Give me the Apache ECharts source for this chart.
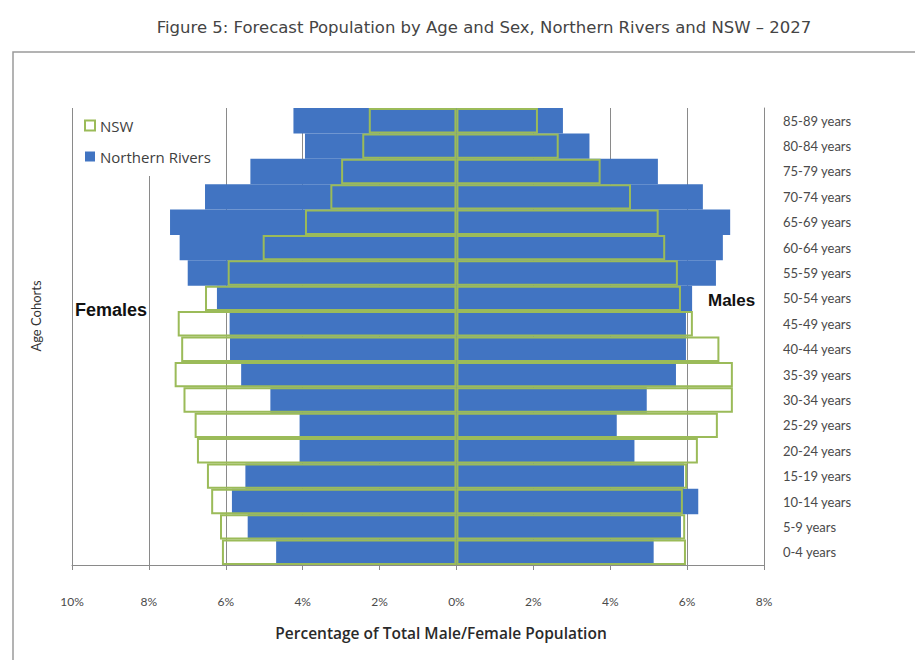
<!DOCTYPE html>
<html>
<head>
<meta charset="utf-8">
<script src="https://cdn.jsdelivr.net/npm/echarts@6/dist/echarts.min.js"></script>
<style>
  html, body { margin: 0; padding: 0; background: #ffffff; }
  #chart { width: 915px; height: 660px; }
</style>
</head>
<body>
<div id="chart"></div>
<script>
// Age cohorts, listed from the bottom of the pyramid to the top
const ageGroups = [
  '0-4 years', '5-9 years', '10-14 years', '15-19 years', '20-24 years',
  '25-29 years', '30-34 years', '35-39 years', '40-44 years', '45-49 years',
  '50-54 years', '55-59 years', '60-64 years', '65-69 years', '70-74 years',
  '75-79 years', '80-84 years', '85-89 years'
];

// Share of the total female / male population in each cohort (%), 2027 forecast
const nrFemales  = [4.69, 5.43, 5.84, 5.49, 4.08, 4.08, 4.84, 5.60, 5.89, 5.90, 6.23, 6.99, 7.20, 7.45, 6.54, 5.36, 3.94, 4.24];
const nrMales    = [5.13, 5.84, 6.29, 5.92, 4.63, 4.17, 4.95, 5.71, 5.97, 5.97, 6.13, 6.75, 6.93, 7.12, 6.41, 5.24, 3.46, 2.77];
const nswFemales = [6.10, 6.15, 6.38, 6.49, 6.75, 6.81, 7.10, 7.33, 7.16, 7.25, 6.54, 5.95, 5.04, 3.94, 3.28, 3.00, 2.45, 2.28];
const nswMales   = [5.97, 5.95, 5.89, 6.00, 6.28, 6.80, 7.19, 7.19, 6.84, 6.15, 5.84, 5.76, 5.43, 5.26, 4.54, 3.75, 2.66, 2.12];

// Percentage axis range (females plotted as negative values)
const pctMin = -10;
const pctMax = 8;
const pctStep = 2;

const BLUE = '#4174c2';
const GREEN = '#9bbb59';
const GRID = '#8a8a8a';
const LABEL_FONT = "Lato, 'Open Sans', sans-serif";

const chart = echarts.init(document.getElementById('chart'), null, { renderer: 'svg' });

const negate = arr => arr.map(v => -v);

chart.setOption({
  animation: false,
  backgroundColor: '#ffffff',
  grid: { left: 72, right: 151, top: 108, bottom: 95, containLabel: false },
  legend: {
    data: [
      { name: 'NSW', itemStyle: { color: '#ffffff', borderColor: GREEN, borderWidth: 2 } },
      { name: 'Northern Rivers', itemStyle: { color: BLUE } }
    ],
    orient: 'vertical',
    left: 73,
    top: 108,
    icon: 'rect',
    itemWidth: 10,
    itemHeight: 10,
    itemGap: 16,
    padding: [10, 8, 12, 11],
    backgroundColor: '#ffffff',
    selectedMode: false,
    textStyle: { fontFamily: "'Open Sans', Lato, sans-serif", fontSize: 15, color: '#404040' }
  },
  xAxis: {
    type: 'value',
    min: pctMin,
    max: pctMax,
    interval: pctStep,
    axisLine: { show: true, onZero: false, lineStyle: { color: GRID, width: 1 } },
    axisTick: { show: true, length: 5, lineStyle: { color: GRID } },
    splitLine: { show: true, lineStyle: { color: GRID, width: 1 } },
    axisLabel: {
      margin: 30,
      fontFamily: LABEL_FONT,
      fontSize: 12,
      color: '#4a4a4a',
      formatter: v => Math.abs(v) + '%'
    }
  },
  yAxis: {
    type: 'category',
    data: ageGroups,
    position: 'right',
    axisLine: { show: true, onZero: false, lineStyle: { color: GRID, width: 1 } },
    axisTick: { show: false },
    splitLine: { show: false },
    axisLabel: {
      margin: 19,
      fontFamily: LABEL_FONT,
      fontSize: 13,
      color: '#4a4a4a'
    }
  },
  series: [
    {
      name: 'Northern Rivers', type: 'bar', data: negate(nrFemales),
      barGap: '-100%', barCategoryGap: '0%',
      itemStyle: { color: BLUE }, emphasis: { disabled: true }
    },
    {
      name: 'Northern Rivers', type: 'bar', data: nrMales,
      barGap: '-100%', barCategoryGap: '0%',
      itemStyle: { color: BLUE }, emphasis: { disabled: true }
    },
    {
      name: 'NSW', type: 'bar', data: negate(nswFemales),
      barGap: '-100%', barCategoryGap: '0%',
      itemStyle: { color: 'rgba(255,255,255,0)', borderColor: GREEN, borderWidth: 2 },
      emphasis: { disabled: true }
    },
    {
      name: 'NSW', type: 'bar', data: nswMales,
      barGap: '-100%', barCategoryGap: '0%',
      itemStyle: { color: 'rgba(255,255,255,0)', borderColor: GREEN, borderWidth: 2 },
      emphasis: { disabled: true }
    }
  ],
  graphic: [
    // chart frame
    {
      type: 'polyline', silent: true, z: 0,
      shape: { points: [[13, 662], [13, 52], [917, 52]] },
      style: { stroke: '#9a9a9a', lineWidth: 1.5, fill: null }
    },
    {
      type: 'text', x: 484, y: 27,
      style: {
        text: 'Figure 5: Forecast Population by Age and Sex, Northern Rivers and NSW \u2013 2027',
        font: "16.5px 'DejaVu Sans', sans-serif", fill: '#444444',
        align: 'center', verticalAlign: 'middle'
      }
    },
    {
      type: 'text', x: 75, y: 301,
      style: { text: 'Females', font: "bold 18px 'Liberation Sans', Arial, sans-serif", fill: '#111111' }
    },
    {
      type: 'text', x: 708, y: 292,
      style: { text: 'Males', font: "bold 17px 'Liberation Sans', Arial, sans-serif", fill: '#111111' }
    },
    {
      type: 'text', x: 36, y: 316, rotation: Math.PI / 2,
      style: {
        text: 'Age Cohorts', font: "13px Lato, sans-serif", fill: '#333333',
        align: 'center', verticalAlign: 'middle'
      }
    },
    {
      type: 'text', x: 441, y: 633,
      style: {
        text: 'Percentage of Total Male/Female Population',
        font: "600 15.5px 'Open Sans', sans-serif", fill: '#2a2a2a',
        align: 'center', verticalAlign: 'middle'
      }
    }
  ]
});
</script>
</body>
</html>
